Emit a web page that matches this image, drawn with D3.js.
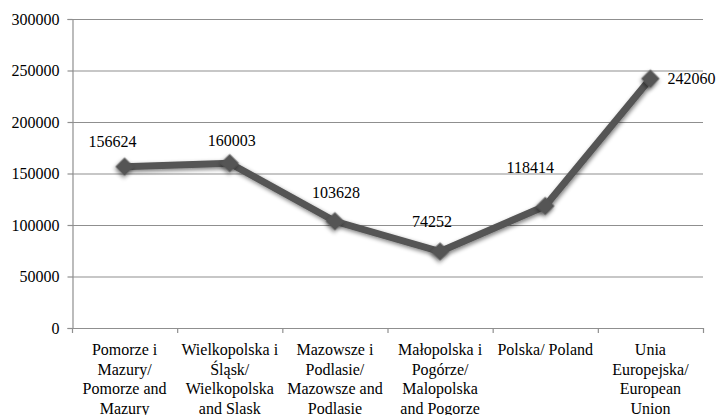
<!DOCTYPE html>
<html><head><meta charset="utf-8">
<script src="https://cdn.jsdelivr.net/npm/d3@7"></script>
</head>
<body style="margin:0;background:#fff"><svg id="c" width="720" height="415"></svg>
<script>
const categories = [
  ["Pomorze i","Mazury/","Pomorze and","Mazury"],
  ["Wielkopolska i","Śląsk/","Wielkopolska","and Slask"],
  ["Mazowsze i","Podlasie/","Mazowsze and","Podlasie"],
  ["Małopolska i","Pogórze/","Malopolska","and Pogorze"],
  ["Polska/ Poland"],
  ["Unia","Europejska/","European","Union"]
];
const values = [156624, 160003, 103628, 74252, 118414, 242060];
const yTicks = [0, 50000, 100000, 150000, 200000, 250000, 300000];
// label placement offsets relative to point (layout, not data)
const labelDx = [-12, 2, 1, -8, -15, 17];
const labelDy = [-20, -17, -23, -25, -33, 5];
const labelAnchor = ["middle","middle","middle","middle","middle","start"];

const FONT = '"Liberation Serif"';
const svg = d3.select("#c");
const m = {l:72, r:17, t:19, b:87};
const W = 720, H = 415;
const x = d3.scaleBand().domain(d3.range(categories.length)).range([m.l, W-m.r]);
const y = d3.scaleLinear().domain([0,300000]).range([H-m.b, m.t]);

const defs = svg.append("defs");
const f = defs.append("filter").attr("id","sh").attr("x","-50%").attr("y","-50%").attr("width","200%").attr("height","200%");
f.append("feGaussianBlur").attr("in","SourceAlpha").attr("stdDeviation",2).attr("result","b");
f.append("feOffset").attr("in","b").attr("dx",1).attr("dy",2).attr("result","o");
f.append("feComponentTransfer").attr("in","o").attr("result","o2").append("feFuncA").attr("type","linear").attr("slope",0.5);
const mg = f.append("feMerge");
mg.append("feMergeNode").attr("in","o2");
mg.append("feMergeNode").attr("in","SourceGraphic");

// gridlines
svg.append("g").selectAll("line").data(yTicks.filter(d=>d>0)).join("line")
  .attr("x1", m.l).attr("x2", W-m.r)
  .attr("y1", d=>y(d)+0.5).attr("y2", d=>y(d)+0.5)
  .attr("stroke","#8f8f8f").attr("stroke-width",1.2);

// y axis
const ya = svg.append("g").attr("transform",`translate(${m.l+0.5},0)`)
  .call(d3.axisLeft(y).tickValues(yTicks).tickSize(5).tickPadding(8).tickFormat(d3.format("d")));
ya.select(".domain").attr("stroke","#8f8f8f").attr("stroke-width",1.2);
ya.selectAll(".tick line").attr("stroke","#8f8f8f").attr("stroke-width",1.2);
ya.selectAll(".tick text").style("font-family",FONT).style("font-size","16px").attr("fill","#000");

// x axis line & ticks at band boundaries
const xa = svg.append("g");
xa.append("line").attr("x1",m.l).attr("x2",W-m.r).attr("y1",y(0)+0.5).attr("y2",y(0)+0.5)
  .attr("stroke","#8f8f8f").attr("stroke-width",1.2);
const bounds = d3.range(categories.length+1).map(i=> i<categories.length ? x(i) : x(i-1)+x.bandwidth());
xa.selectAll("line.t").data(bounds).join("line").attr("class","t")
  .attr("x1",d=>d+0.5).attr("x2",d=>d+0.5).attr("y1",y(0)).attr("y2",y(0)+5)
  .attr("stroke","#8f8f8f").attr("stroke-width",1.2);

// category labels
const cl = svg.append("g").selectAll("text").data(categories).join("text")
  .attr("text-anchor","middle").style("font-family",FONT).style("font-size","16px").attr("fill","#000")
  .attr("x",(d,i)=>x(i)+x.bandwidth()/2).attr("y",355);
cl.selectAll("tspan").data(d=>d).join("tspan")
  .attr("x",function(){return d3.select(this.parentNode).attr("x");})
  .attr("dy",(d,i)=>i===0?0:19.5).text(d=>d);

const cx = i => x(i)+x.bandwidth()/2;
// line
svg.append("path").datum(values)
  .attr("d", d3.line().x((d,i)=>cx(i)).y(d=>y(d)))
  .attr("fill","none").attr("stroke","#555555").attr("stroke-width",7)
  .attr("stroke-linejoin","miter").attr("filter","url(#sh)");

// markers
svg.append("g").selectAll("path").data(values).join("path")
  .attr("d", d3.symbol(d3.symbolSquare, 170)())
  .attr("transform",(d,i)=>`translate(${cx(i)},${y(d)}) rotate(45)`)
  .attr("fill","#555555").attr("filter","url(#sh)");

// value labels
svg.append("g").selectAll("text").data(values).join("text")
  .attr("x",(d,i)=>cx(i)+labelDx[i]).attr("y",(d,i)=>y(d)+labelDy[i])
  .attr("text-anchor",(d,i)=>labelAnchor[i]).style("font-family",FONT).style("font-size","16px").attr("fill","#000")
  .text(d=>d);
</script></body></html>
